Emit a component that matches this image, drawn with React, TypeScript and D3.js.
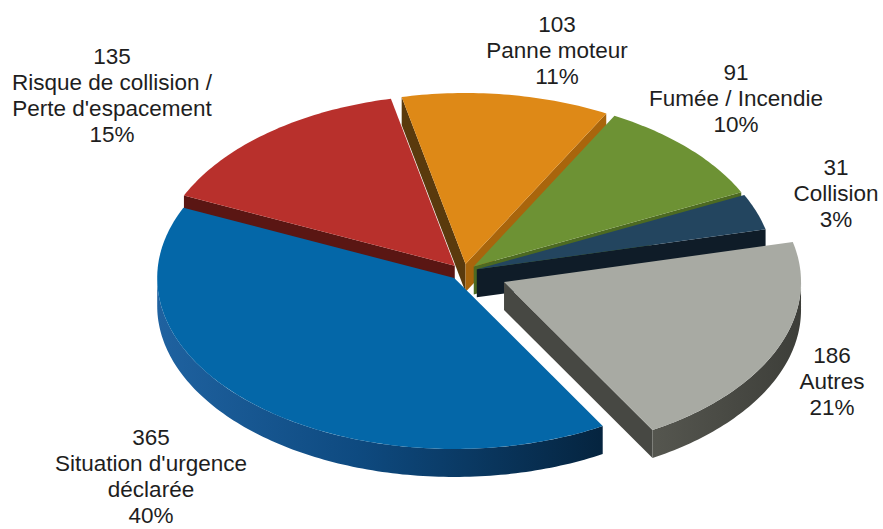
import React, { useRef, useEffect } from "react";
import * as d3 from "d3";

// data
const counts = [365, 135, 103, 91, 31, 186];
const nameLines = [
  ["Situation d'urgence", "déclarée"],
  ["Risque de collision /", "Perte d'espacement"],
  ["Panne moteur"],
  ["Fumée / Incendie"],
  ["Collision"],
  ["Autres"],
];
const percents = ["40%", "15%", "11%", "10%", "3%", "21%"];

// styling
const topColors = ["#0467a8", "#b8302c", "#de8917", "#6d9234", "#23455f", "#a8aaa3"];
const wallColors = ["#0d4a80", "#5a1613", "#5a3a0d", "#4d6a22", "#0f1c28", "#4a4b46"];
const endWallColors = ["#0d4a80", "#5a1613", "#a9650c", "#4d6a22", "#0f1c28", "#474843"];
const explode = [14, 14, 14, 14, 14, 44];
// label block centre x and first baseline
const labelPos = [
  [151, 445],
  [112, 64],
  [557, 32],
  [736, 80],
  [836, 175],
  [832, 363],
];

const App = () => {
  const svgRef = useRef(null);
  const width = 883;
  const height = 529;

  useEffect(() => {
    const svg = d3.select(svgRef.current);
    svg.selectAll("*").remove();

    const cx = 463.6, cy = 272, R = 297, ry = 171, depth = 28;
    const k = ry / R;
    const rad = Math.PI / 180;

    const arcs = d3.pie<number>().sort(null)
      .startAngle(150 * rad)
      .endAngle(510 * rad)(counts);

    const defs = svg.append("defs");
    const blueGrad = defs.append("linearGradient").attr("id", "wall0");
    blueGrad.append("stop").attr("offset", "0").attr("stop-color", "#1f62a0");
    blueGrad.append("stop").attr("offset", "0.45").attr("stop-color", "#0e4a80");
    blueGrad.append("stop").attr("offset", "1").attr("stop-color", "#05243f");
    const grayGrad = defs.append("linearGradient").attr("id", "wall5");
    grayGrad.append("stop").attr("offset", "0").attr("stop-color", "#55564f");
    grayGrad.append("stop").attr("offset", "1").attr("stop-color", "#3d3e39");

    const slices = arcs.map((a, i) => {
      const ts = a.startAngle - Math.PI / 2;
      const te = a.endAngle - Math.PI / 2;
      const tm = (ts + te) / 2;
      const off = [explode[i] * Math.cos(tm), explode[i] * k * Math.sin(tm)];
      return { i, ts, te, tm, off };
    });

    const pt = (t, r, off, z) => [
      cx + off[0] + r * Math.cos(t),
      cy + off[1] + r * k * Math.sin(t) + z,
    ];
    const arcPts = (t0, t1, off, z) => {
      const n = Math.max(2, Math.ceil(Math.abs(t1 - t0) / rad));
      return d3.range(n + 1).map(j => pt(t0 + (t1 - t0) * j / n, R, off, z));
    };
    const poly = pts => "M" + pts.map(p => p[0].toFixed(2) + "," + p[1].toFixed(2)).join("L") + "Z";

    const g = svg.append("g");
    const order = slices.slice().sort((a, b) => Math.sin(a.tm) - Math.sin(b.tm));

    order.forEach(s => {
      const { i, ts, te, off } = s;
      const sg = g.append("g");
      const apexTop = pt(0, 0, off, 0);
      const apexBot = pt(0, 0, off, depth);

      // radial walls (only the ones facing the viewer)
      if (Math.cos(ts) < 0) {
        sg.append("path")
          .attr("d", poly([apexTop, pt(ts, R, off, 0), pt(ts, R, off, depth), apexBot]))
          .attr("fill", wallColors[i]);
      }
      if (Math.cos(te) > 0) {
        sg.append("path")
          .attr("d", poly([apexTop, pt(te, R, off, 0), pt(te, R, off, depth), apexBot]))
          .attr("fill", endWallColors[i]);
      }

      // outer wall on the front half
      for (let n = -1; n <= 2; n++) {
        const lo = Math.max(ts, 2 * Math.PI * n);
        const hi = Math.min(te, 2 * Math.PI * n + Math.PI);
        if (hi > lo) {
          const top = arcPts(lo, hi, off, 0);
          const bot = arcPts(hi, lo, off, depth);
          sg.append("path")
            .attr("d", poly(top.concat(bot)))
            .attr("fill", i === 0 || i === 5 ? `url(#wall${i})` : wallColors[i]);
        }
      }

      // top face
      sg.append("path")
        .attr("d", poly([apexTop].concat(arcPts(ts, te, off, 0))))
        .attr("fill", topColors[i]);
    });

    // data labels
    const labels = svg.append("g")
      .attr("font-family", "'Liberation Sans', Arial, sans-serif")
      .attr("font-size", 22.5)
      .attr("fill", "#1e1e1e")
      .attr("text-anchor", "middle");

    counts.forEach((c, i) => {
      const lines = [String(c), ...nameLines[i], percents[i]];
      const t = labels.append("text")
        .attr("x", labelPos[i][0])
        .attr("y", labelPos[i][1]);
      lines.forEach((line, j) => {
        t.append("tspan")
          .attr("x", labelPos[i][0])
          .attr("dy", j === 0 ? 0 : 26)
          .text(line);
      });
    });
  }, []);

  return (
    <svg
      ref={svgRef}
      width={width}
      height={height}
      style={{ position: "absolute", left: 0, top: 0, background: "#fff" }}
    />
  );
};

export default App;
